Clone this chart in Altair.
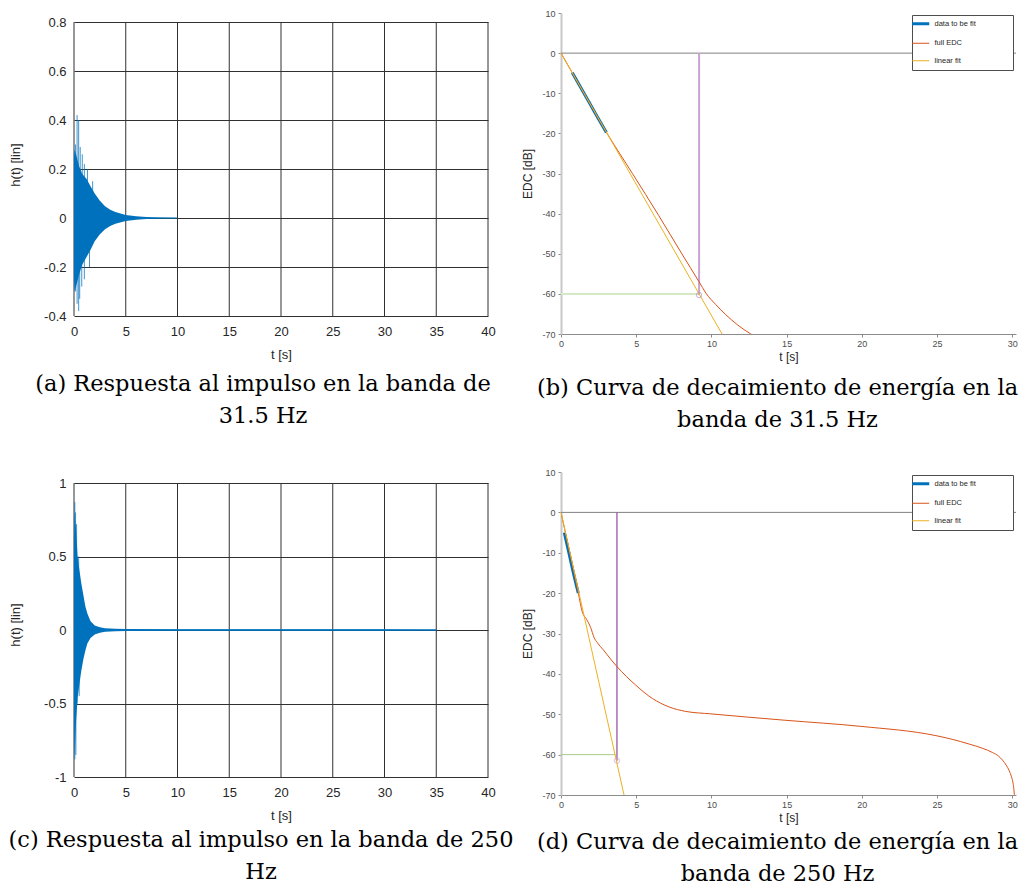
import altair as alt
import pandas as pd

# ---------------- data ----------------
X_IR_TICKS = [0, 5, 10, 15, 20, 25, 30, 35, 40]
X_EDC_TICKS = [0, 5, 10, 15, 20, 25, 30]
Y_A_TICKS = [-0.4, -0.2, 0, 0.2, 0.4, 0.6, 0.8]
Y_C_TICKS = [-1, -0.5, 0, 0.5, 1]
Y_EDC_TICKS = [-70, -60, -50, -40, -30, -20, -10, 0, 10]

SERIES = ["data to be fit", "full EDC", "linear fit"]
SERIES_COLORS = ["#0072BD", "#D95319", "#EDB120"]
SERIES_WIDTHS = [3, 1, 1]

# (a) impulse response, 31.5 Hz band: envelope of the dense oscillation
a_t = [0.0, 0.05, 0.2, 0.5, 0.8, 1.2, 1.6, 2.0, 2.5, 3.0, 3.5, 4.0, 5.0, 6.0, 7.0, 8.0, 9.0, 10.0]
a_up = [0.25, 0.28, 0.26, 0.21, 0.18, 0.16, 0.13, 0.10, 0.07, 0.048, 0.034, 0.024, 0.012, 0.007, 0.004, 0.002, 0.001, 0.0]
a_lo = [-0.25, -0.30, -0.28, -0.23, -0.19, -0.16, -0.13, -0.095, -0.066, -0.046, -0.033, -0.023, -0.012, -0.007, -0.004, -0.002, -0.001, 0.0]
a_spk_t = [0.15, 0.3, 0.45, 0.6, 0.8, 1.0, 1.3, 1.8, 0.15, 0.3, 0.45, 0.55, 0.75, 1.0, 1.5]
a_spk_v = [0.30, 0.42, 0.40, 0.29, 0.26, 0.22, 0.20, 0.15, -0.30, -0.35, -0.38, -0.33, -0.28, -0.25, -0.20]
a_end = 10.0

# (c) impulse response, 250 Hz band
c_t = [0.0, 0.05, 0.1, 0.2, 0.35, 0.5, 0.7, 0.9, 1.1, 1.3, 1.6, 2.0, 2.5, 3.0, 4.0, 5.0, 10.0, 20.0, 30.0, 35.0]
c_up = [0.6, 0.8, 0.75, 0.68, 0.5, 0.42, 0.32, 0.24, 0.16, 0.11, 0.06, 0.03, 0.018, 0.012, 0.008, 0.006, 0.005, 0.005, 0.005, 0.004]
c_lo = [-0.6, -0.85, -0.8, -0.62, -0.46, -0.38, -0.28, -0.2, -0.14, -0.09, -0.055, -0.03, -0.018, -0.012, -0.008, -0.006, -0.005, -0.005, -0.005, -0.004]
c_spk_t = [0.08, 0.15, 0.25, 0.45, 0.08, 0.18, 0.3, 0.5]
c_spk_v = [0.87, 0.80, 0.72, 0.50, -0.88, -0.85, -0.50, -0.45]
c_end = 35.0

# (b) EDC, 31.5 Hz band
b_edc_t = [0, 1.5, 3.08, 4.75, 6.5, 8.0, 9.18, 9.63, 10.3, 10.96, 11.73, 12.62, 13.3]
b_edc_v = [0, -9.8, -20.1, -30.0, -40.5, -49.8, -57.0, -59.8, -62.7, -65.2, -67.7, -70.0, -71.3]
b_dat_t = [0.75, 1.5, 2.25, 3.02]
b_dat_v = [-4.9, -9.8, -14.8, -19.8]
b_fit_t = [0.0, 11.0]
b_fit_v = [0.0, -71.9]
b_t60 = 9.18
b_t60_v = -60.3
b_grn_end = 9.18

# (d) EDC, 250 Hz band
d_edc_t = [0, 0.31, 0.7, 1.15, 1.42, 1.7, 1.97, 2.2, 2.42, 2.8, 3.08, 3.4, 3.7, 4.97, 6.08, 7.19, 8.3,
           9.96, 14.95, 19.94, 24.93, 26.0, 27.15, 28.0, 28.7, 29.1, 29.36, 29.6, 29.8, 29.95, 30.05,
           30.12, 30.16]
d_edc_v = [0, -5.3, -12.0, -20.0, -24.7, -26.5, -28.5, -31.0, -32.3, -34.0, -35.3, -36.8, -38.1, -42.8,
           -46.1, -48.2, -49.3, -49.9, -51.5, -53.0, -55.3, -56.2, -57.4, -58.4, -59.5, -60.4, -61.4,
           -62.6, -64.0, -65.5, -67.0, -69.0, -71.0]
d_dat_t = [0.22, 0.5, 0.8, 1.15]
d_dat_v = [-5.0, -9.6, -14.6, -20.0]
d_fit_t = [0.0, 4.4]
d_fit_v = [0.0, -73.5]
d_t60 = 3.72
d_t60_v = -61.5
d_grn_end = 3.62

CAP_A = ["(a) Respuesta al impulso en la banda de", "31.5 Hz"]
CAP_B = ["(b) Curva de decaimiento de energía en la", "banda de 31.5 Hz"]
CAP_C = ["(c) Respuesta al impulso en la banda de 250", "Hz"]
CAP_D = ["(d) Curva de decaimiento de energía en la", "banda de 250 Hz"]

# ---------------- styling ----------------
FONT = "Liberation Sans"
SERIF = "DejaVu Serif"
TXT = "#262626"
GRID = "#303030"
BLUE = "#0072BD"
CAP_SIZE = 22.5


def caption(text, dx, offset):
    return alt.TitleParams(text=text, orient="bottom", anchor="middle", frame="group",
                           font=SERIF, fontSize=CAP_SIZE, fontWeight="normal", color="black",
                           offset=offset, dx=dx, lineHeight=32, baseline="top")


def ir_panel(t, up, lo, spk_t, spk_v, t_end, yticks, box_h, head_px, cap, cap_dx, cap_off):
    ybot, ytop = yticks[0], yticks[-1]
    ymax = ytop + head_px * (ytop - ybot) / box_h  # empty head-room above the boxed area
    env = pd.DataFrame({"t": t, "v": up, "v2": lo})
    spk = pd.DataFrame({"t": spk_t, "v": spk_v, "v2": [0.0] * len(spk_t)})
    base = pd.DataFrame({"t": [0.0], "t2": [t_end], "v": [0.0]})
    vgrid = pd.DataFrame({"t": X_IR_TICKS, "v": [ybot] * len(X_IR_TICKS), "v2": [ytop] * len(X_IR_TICKS)})
    common = dict(ticks=False, tickSize=0, domain=False, labelFont=FONT, labelFontSize=13,
                  labelColor=TXT, labelFlush=False, titleFont=FONT, titleFontSize=13,
                  titleFontWeight="normal", titleColor=TXT)
    xax = alt.Axis(values=X_IR_TICKS, title="t [s]", grid=False, labelPadding=9, titlePadding=10, **common)
    yax = alt.Axis(values=yticks, title="h(t) [lin]", grid=True, gridColor=GRID, gridOpacity=1,
                   gridWidth=1, labelPadding=8, titlePadding=21, labelExpr="'' + datum.value", **common)
    x = alt.X("t:Q", scale=alt.Scale(domain=[0, 40], nice=False), axis=xax)
    y = alt.Y("v:Q", scale=alt.Scale(domain=[ybot, ymax], nice=False), axis=yax)
    grid = alt.Chart(vgrid).mark_rule(color=GRID, strokeWidth=1).encode(x=x, y=y, y2=alt.Y2("v2"))
    line = alt.Chart(base).mark_rule(color=BLUE, strokeWidth=1.2).encode(x=x, x2=alt.X2("t2"), y=y)
    area = alt.Chart(env).mark_area(color=BLUE, opacity=1).encode(x=x, y=y, y2=alt.Y2("v2"))
    spikes = alt.Chart(spk).mark_rule(color=BLUE, strokeWidth=1, opacity=0.75).encode(
        x=x, y=y, y2=alt.Y2("v2"))
    return alt.layer(grid, line, area, spikes).properties(
        width=414, height=box_h + head_px, title=caption(cap, cap_dx, cap_off))


def edc_panel(edc_t, edc_v, dat_t, dat_v, fit_t, fit_v, t60, t60_v, grn_end, height, leg_y,
              cap, cap_dx, cap_off, vcol, vw, gcol, gw, ccol):
    frames = []
    for name, tt, vv in ((SERIES[0], dat_t, dat_v), (SERIES[1], edc_t, edc_v), (SERIES[2], fit_t, fit_v)):
        frames.append(pd.DataFrame({"t": tt, "v": vv, "s": [name] * len(tt)}))
    common = dict(grid=False, ticks=True, tickSize=3, tickColor="#8c8c8c", labelFont=FONT,
                  labelFontSize=9, labelColor="#4d4d4d", labelFlush=False, titleFont=FONT,
                  titleFontSize=12, titleFontWeight="normal", titleColor=TXT)
    xax = alt.Axis(values=X_EDC_TICKS, title="t [s]", domainColor="#8c8c8c", domainWidth=1,
                   labelPadding=2, titlePadding=3, **common)
    yax = alt.Axis(values=Y_EDC_TICKS, title="EDC [dB]", domainColor="#c8c8c8", domainWidth=2,
                   labelPadding=3, titlePadding=7, labelExpr="'' + datum.value", **common)
    x = alt.X("t:Q", scale=alt.Scale(domain=[0, 30.25], nice=False, zero=False), axis=xax)
    y = alt.Y("v:Q", scale=alt.Scale(domain=[-70, 10], nice=False), axis=yax)
    # the invisible side title only widens the legend box to the reference's size
    leg = alt.Legend(title=".", titleOrient="right", titleOpacity=0, titleFontSize=7.5,
                     titlePadding=29, orient="none", legendX=351, legendY=leg_y,
                     direction="vertical", symbolType="stroke", symbolSize=290, symbolOffset=0,
                     labelOffset=10,
                     symbolStrokeWidth=alt.ExprRef("datum.value == 'data to be fit' ? 3 : 1"),
                     labelFont=FONT, labelFontSize=7.5, labelColor=TXT, strokeColor="#4d4d4d",
                     fillColor="white", padding=5, rowPadding=8.5)
    color = alt.Color("s:N", scale=alt.Scale(domain=SERIES, range=SERIES_COLORS), legend=leg)

    zero = alt.Chart(pd.DataFrame({"v": [0.0]})).mark_rule(color="#808080", strokeWidth=1).encode(y=y)
    grn = alt.Chart(pd.DataFrame({"t": [0.0], "t2": [grn_end], "v": [-60.0]})).mark_rule(
        color=gcol, strokeWidth=gw).encode(x=x, x2=alt.X2("t2"), y=y)
    pur = alt.Chart(pd.DataFrame({"t": [t60], "v": [0.0], "v2": [t60_v]})).mark_rule(
        color=vcol, strokeWidth=vw).encode(x=x, y=y, y2=alt.Y2("v2"))
    lines = [alt.Chart(f).mark_line(clip=True, interpolate="monotone").encode(
        x=x, y=y, color=color, strokeWidth=alt.value(w))
        for f, w in zip(frames, SERIES_WIDTHS)]
    circ = alt.Chart(pd.DataFrame({"t": [t60], "v": [t60_v]})).mark_point(
        shape="circle", filled=False, size=28, color=ccol, strokeWidth=1).encode(x=x, y=y)
    return alt.layer(zero, grn, pur, *lines, circ).properties(
        width=455, height=height, title=caption(cap, cap_dx, cap_off))


pa = ir_panel(a_t, a_up, a_lo, a_spk_t, a_spk_v, a_end, Y_A_TICKS, 294, 9, CAP_A, -18, 12)
pb = edc_panel(b_edc_t, b_edc_v, b_dat_t, b_dat_v, b_fit_t, b_fit_v, b_t60, b_t60_v, b_grn_end,
               321, 2, CAP_B, -11, 15, "#C9A3D3", 2, "#D6E9C6", 2, "#B48CC0")
pc = ir_panel(c_t, c_up, c_lo, c_spk_t, c_spk_v, c_end, Y_C_TICKS, 294, 11, CAP_C, -20, 7)
pd_ = edc_panel(d_edc_t, d_edc_v, d_dat_t, d_dat_v, d_fit_t, d_fit_v, d_t60, d_t60_v, d_grn_end,
                323, 3, CAP_D, -11, 8, "#8E4A9E", 1.2, "#A9CC8A", 1, "#C9A0D6")

chart = alt.concat(pa, pb, pc, pd_, columns=2, spacing={"row": 138, "column": 73},
                   bounds="flush").resolve_scale(color="independent").resolve_legend(
    color="independent").properties(padding=0).configure(
    font=FONT).configure_view(stroke="transparent")

chart.save("out.html", embed_options={"renderer": "svg", "actions": False})
